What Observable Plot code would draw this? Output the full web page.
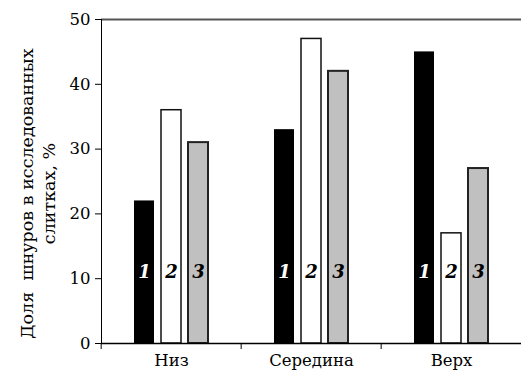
<!DOCTYPE html>
<html><head><meta charset="utf-8">
<script src="https://cdn.jsdelivr.net/npm/d3@7"></script>
<script src="https://cdn.jsdelivr.net/npm/@observablehq/plot@0.6"></script>
<style>body{margin:0;background:#fff}</style>
</head><body><div id="chart"></div>
<script>
const categories = ["Низ", "Середина", "Верх"];
const series = ["1", "2", "3"];
const values1 = [22, 33, 45];
const values2 = [36, 47, 17];
const values3 = [31, 42, 27];
const yTicks = [0, 10, 20, 30, 40, 50];
const yLabel = "Доля  шнуров в исследованных\nслитках, %";

const seriesValues = [values1, values2, values3];
const data = categories.flatMap((c, i) => series.map((s, j) => ({category: c, series: s, value: seriesValues[j][i]})));

const W = 522, H = 383, mL = 100, mR = 0;
const bandW = (W - mL - mR) / categories.length;
const fills = ["#000000", "#ffffff", "#c0c0c0"];
const strokes = ["none", "#111111", "#222222"];
const strokeWidths = [0, 1.5, 2];
const textFills = ["#ffffff", "#000000", "#000000"];

const chart = Plot.plot({
  width: W, height: H,
  marginTop: 19, marginBottom: 40, marginLeft: mL, marginRight: mR,
  style: {fontFamily: "DejaVu Serif", fontSize: "16.5px", color: "#000", background: "#fff"},
  fx: {domain: categories, padding: 0, label: null},
  x: {domain: series, paddingInner: 0.25, paddingOuter: 1.13, axis: null},
  y: {domain: [0, 50], label: null},
  marks: [
    ...series.map((s, j) => Plot.barY(data.filter(d => d.series === s), {
      fx: "category", x: "series", y: "value",
      fill: fills[j], stroke: strokes[j], strokeWidth: strokeWidths[j]
    })),
    ...series.map((s, j) => Plot.text(data.filter(d => d.series === s), {
      fx: "category", x: "series", text: "series",
      frameAnchor: "bottom", dy: -66,
      fill: textFills[j], fontWeight: "bold", fontStyle: "italic", fontSize: 18
    })),
    Plot.ruleY([50], {stroke: "#555", strokeWidth: 2}),
    Plot.ruleY([0], {stroke: "#000", strokeWidth: 1.3}),
    Plot.frame({anchor: "left", stroke: "#000", facet: "super"}),
    Plot.axisY({ticks: yTicks, tickSize: 6, tickPadding: 5, label: null, fontSize: 16.5}),
    Plot.axisFx({anchor: "bottom", tickSize: 0, tickPadding: 11, label: null, fontSize: 16.5}),
    Plot.axisFx({anchor: "bottom", tickSize: 6, tickFormat: () => "", dx: -bandW / 2, label: null}),
    Plot.text([yLabel], {
      facet: "super", frameAnchor: "left", rotate: -90, dx: -85, dy: 12,
      lineAnchor: "top", lineHeight: 1.3, fontSize: 17.5, textAnchor: "middle"
    })
  ]
});
document.getElementById("chart").appendChild(chart);
</script>
</body></html>
